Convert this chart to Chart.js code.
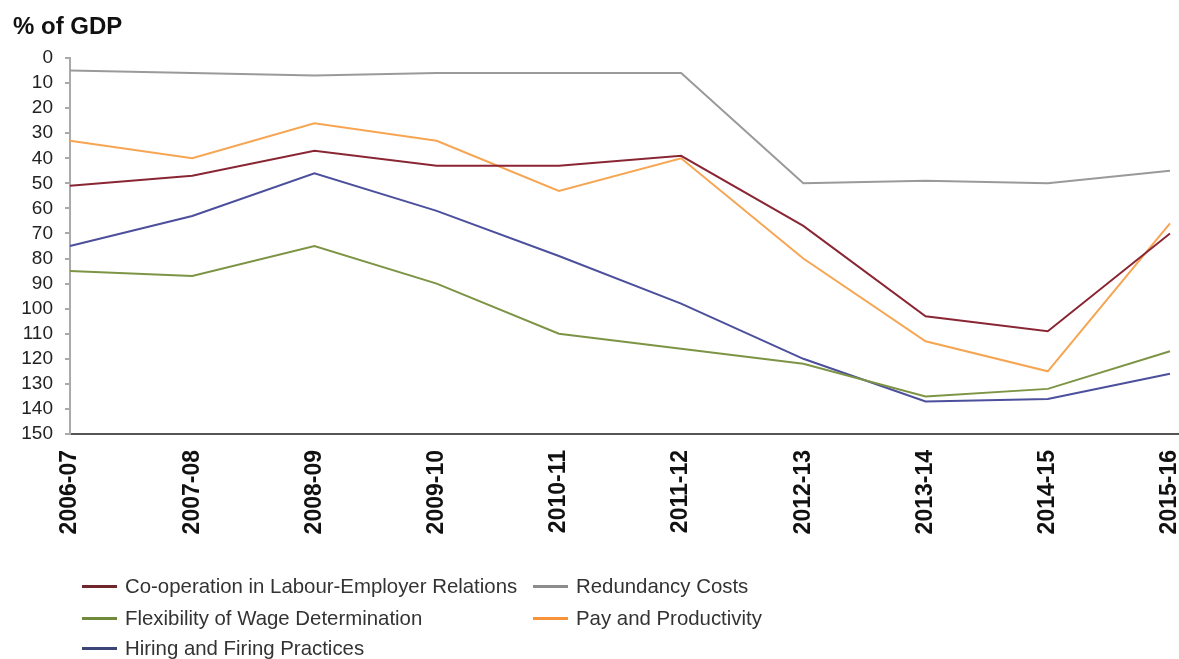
<!DOCTYPE html>
<html>
<head>
<meta charset="utf-8">
<script src="https://cdn.jsdelivr.net/npm/chart.js@4/dist/chart.umd.min.js"></script>
<style>
  html, body { margin: 0; padding: 0; background: #fff; }
  #wrap { position: relative; width: 1179px; height: 659px; overflow: hidden; font-family: Arial, "Liberation Sans", sans-serif; }
  #chart { position: absolute; left: 0; top: 0; }
  #unit { position: absolute; left: 13px; top: 12px; font-size: 24px; font-weight: bold; color: #111; line-height: 28px; }
  .lg { position: absolute; font-size: 20.4px; color: #333; line-height: 24px; white-space: nowrap; }
  .lg span.sw { position: absolute; top: 11px; width: 35px; height: 3px; }
  .lg span.tx { position: absolute; left: 43px; top: 0; }
</style>
</head>
<body>
<div id="wrap">
  <canvas id="chart" width="1179" height="659"></canvas>
  <div id="unit">% of GDP</div>
  <div id="legend"></div>
</div>
<script>
// Financial years on the horizontal axis
const years = ['2006-07', '2007-08', '2008-09', '2009-10', '2010-11',
               '2011-12', '2012-13', '2013-14', '2014-15', '2015-16'];

// Series values (% of GDP)
const cooperation = [51, 47, 37, 43, 43, 39, 67, 103, 109, 70];
const redundancy  = [5, 6, 7, 6, 6, 6, 50, 49, 50, 45];
const flexibility = [85, 87, 75, 90, 110, 116, 122, 135, 132, 117];
const payProd     = [33, 40, 26, 33, 53, 40, 80, 113, 125, 66];
const hiring      = [75, 63, 46, 61, 79, 98, 120, 137, 136, 126];

// Vertical axis range
const yMin = 0, yMax = 150, yStep = 10;

const series = [
  { label: 'Co-operation in Labour-Employer Relations', data: cooperation, color: '#8a2634', key: '#70272c' },
  { label: 'Redundancy Costs', data: redundancy, color: '#9a9a9a', key: '#8c8c8c' },
  { label: 'Flexibility of Wage Determination', data: flexibility, color: '#7d9445', key: '#6f8a3a' },
  { label: 'Pay and Productivity', data: payProd, color: '#f6a552', key: '#f7943a' },
  { label: 'Hiring and Firing Practices', data: hiring, color: '#4b4f9c', key: '#3b4577' }
];

// Extend the category axis line to the canvas edge
const axisTail = {
  id: 'axisTail',
  afterDraw(chart) {
    const { ctx, chartArea } = chart;
    ctx.save();
    ctx.strokeStyle = '#555';
    ctx.lineWidth = 2;
    ctx.beginPath();
    ctx.moveTo(chartArea.right, chartArea.bottom);
    ctx.lineTo(chart.width, chartArea.bottom);
    ctx.stroke();
    ctx.restore();
  }
};

new Chart(document.getElementById('chart'), {
  type: 'line',
  data: {
    labels: years,
    datasets: series.map(s => ({
      label: s.label,
      data: s.data,
      borderColor: s.color,
      backgroundColor: s.color,
      borderWidth: 2,
      pointRadius: 0,
      tension: 0,
      fill: false
    }))
  },
  options: {
    responsive: false,
    animation: false,
    layout: { padding: { top: 58, left: 0, right: 9, bottom: 0 } },
    plugins: {
      legend: { display: false },
      title: { display: false },
      tooltip: { enabled: false }
    },
    scales: {
      x: {
        offset: false,
        grid: { display: true, drawOnChartArea: false, drawTicks: false },
        border: { display: true, color: '#555', width: 2 },
        ticks: {
          autoSkip: false,
          minRotation: 90,
          maxRotation: 90,
          padding: 16,
          color: '#111',
          font: { family: 'Arial, "Liberation Sans", sans-serif', size: 23, weight: 'bold' }
        },
        afterFit(scale) {
          scale.height = 659 - 434;
          scale.paddingLeft = 0;
          scale.paddingRight = 0;
        }
      },
      y: {
        reverse: true,
        min: yMin,
        max: yMax,
        ticks: {
          autoSkip: false,
          stepSize: yStep,
          padding: 12,
          color: '#222',
          font: { family: 'Arial, "Liberation Sans", sans-serif', size: 19 }
        },
        grid: { display: true, drawOnChartArea: false, drawTicks: true, tickLength: 5, color: '#aaa', lineWidth: 2 },
        border: { display: true, color: '#aaa', width: 2 },
        afterFit(scale) {
          scale.width = 70;
          scale.paddingTop = 0;
          scale.paddingBottom = 0;
        }
      }
    }
  },
  plugins: [axisTail]
});

// Two-column legend below the chart
const legendPos = [
  { x: 82, y: 574 }, { x: 533, y: 574 },
  { x: 82, y: 606 }, { x: 533, y: 606 },
  { x: 82, y: 636 }
];
const legendEl = document.getElementById('legend');
series.forEach((s, i) => {
  const d = document.createElement('div');
  d.className = 'lg';
  d.style.left = legendPos[i].x + 'px';
  d.style.top = legendPos[i].y + 'px';
  d.innerHTML = '<span class="sw" style="background:' + s.key + '"></span><span class="tx"></span>';
  d.querySelector('.tx').textContent = s.label;
  legendEl.appendChild(d);
});
</script>
</body>
</html>
